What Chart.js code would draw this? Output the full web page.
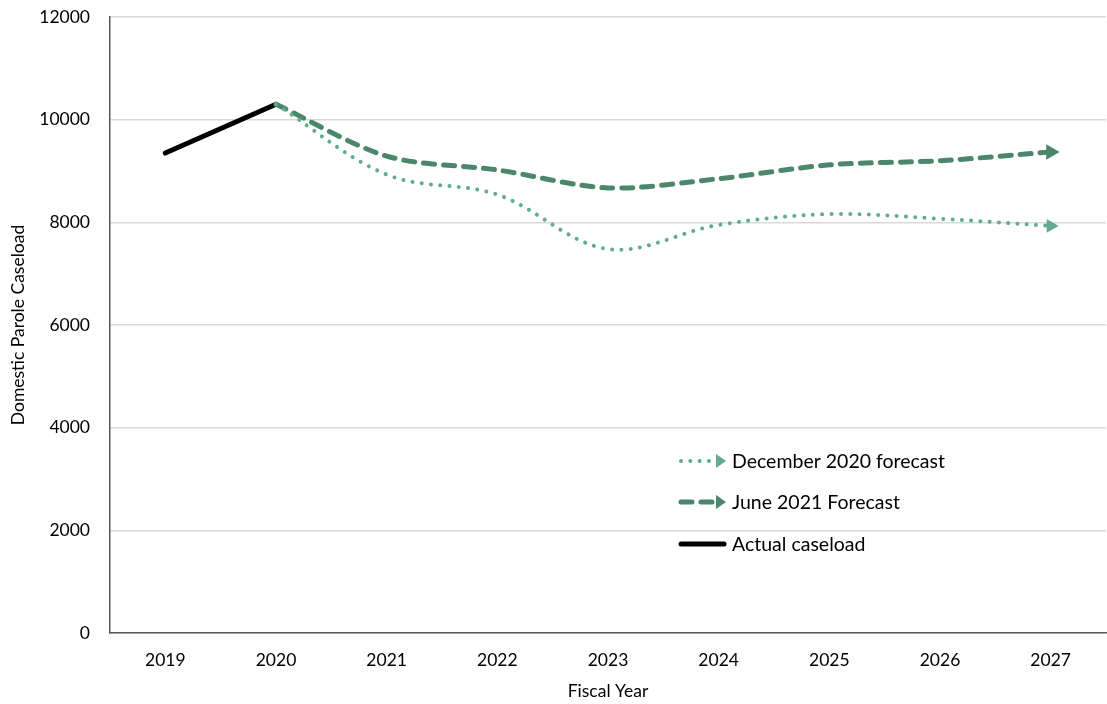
<!DOCTYPE html>
<html>
<head>
<meta charset="utf-8">
<script src="https://cdn.jsdelivr.net/npm/chart.js@4.4.0/dist/chart.umd.min.js"></script>
<style>
  html, body { margin: 0; padding: 0; background: #fff; }
  #wrap { width: 1107px; height: 704px; }
</style>
</head>
<body>
<div id="wrap"><canvas id="chart" width="1107" height="704"></canvas></div>
<script>
// valores
const years = ['2019', '2020', '2021', '2022', '2023', '2024', '2025', '2026', '2027'];
const actualCaseload = [9350, 10300, null, null, null, null, null, null, null];
const dec2020Forecast = [null, 10300, 8930, 8540, 7480, 7950, 8160, 8070, 7930];
const jun2021Forecast = [null, 10300, 9290, 9020, 8670, 8850, 9120, 9200, 9370];
const yTicks = [0, 2000, 4000, 6000, 8000, 10000, 12000];

const FONT = 'Lato, "Open Sans", sans-serif';
const COR_DEC = '#62ab8c';
const COR_JUN = '#4b876b';

// seta só no último ponto
const lastArrow = (size) => (ctx) => ctx.dataIndex === years.length - 1 ? size : 0;

// legenda desenhada à mão (linhas com setas)
const legendPlugin = {
    id: 'customLegend',
    afterDraw(chart) {
        const c = chart.ctx;
        const x0 = 679, x1 = 726, tx = 732;
        const rows = [
            { y: 461, label: 'December 2020 forecast', color: COR_DEC, width: 4, dash: [0.01, 9.3], arrow: true },
            { y: 502, label: 'June 2021 Forecast', color: COR_JUN, width: 5, dash: [11, 9], arrow: true },
            { y: 544, label: 'Actual caseload', color: '#000', width: 5, dash: [], arrow: false }
        ];
        c.save();
        rows.forEach(r => {
            c.beginPath();
            c.strokeStyle = r.color;
            c.lineWidth = r.width;
            c.lineCap = 'round';
            c.setLineDash(r.dash);
            c.moveTo(x0 + 2, r.y);
            c.lineTo(r.arrow ? x1 - 10 : x1 - 2, r.y);
            c.stroke();
            c.setLineDash([]);
            if (r.arrow) {
                c.beginPath();
                c.fillStyle = r.color;
                c.moveTo(x1 - 10, r.y - 7);
                c.lineTo(x1, r.y);
                c.lineTo(x1 - 10, r.y + 7);
                c.closePath();
                c.fill();
            }
            c.fillStyle = '#000';
            c.font = '19.5px ' + FONT;
            c.textBaseline = 'middle';
            c.textAlign = 'left';
            c.fillText(r.label, tx, r.y + 1);
        });
        c.restore();
    }
};

new Chart(document.getElementById('chart'), {
    type: 'line',
    data: {
        labels: years,
        datasets: [{
            label: 'December 2020 forecast',
            data: dec2020Forecast,
            borderColor: COR_DEC,
            backgroundColor: COR_DEC,
            borderWidth: 4,
            borderDash: [0.01, 9.3],
            borderCapStyle: 'round',
            tension: 0.35,
            pointStyle: 'triangle',
            pointRotation: 90,
            pointRadius: lastArrow(8),
            pointBorderWidth: 0
        }, {
            label: 'June 2021 Forecast',
            data: jun2021Forecast,
            borderColor: COR_JUN,
            backgroundColor: COR_JUN,
            borderWidth: 5,
            borderDash: [11, 9],
            borderCapStyle: 'round',
            tension: 0.3,
            pointStyle: 'triangle',
            pointRotation: 90,
            pointRadius: lastArrow(9),
            pointBorderWidth: 0
        }, {
            label: 'Actual caseload',
            data: actualCaseload,
            borderColor: '#000',
            borderWidth: 5,
            borderCapStyle: 'round',
            pointRadius: 0,
            tension: 0
        }]
    },
    options: {
        responsive: false,
        animation: false,
        spanGaps: false,
        layout: { autoPadding: false, padding: { top: 17, right: 1, left: 0, bottom: 0 } },
        plugins: {
            legend: { display: false },
            tooltip: { enabled: false }
        },
        scales: {
            x: {
                offset: true,
                afterFit: (scale) => { scale.height = 71; scale.paddingLeft = 0; scale.paddingRight = 0; },
                grid: { display: false, drawTicks: false },
                border: { color: '#595959', width: 1.5 },
                ticks: { color: '#000', font: { family: FONT, size: 17.5 }, padding: 17 },
                title: { display: true, text: 'Fiscal Year', color: '#000', font: { family: FONT, size: 17.5 }, padding: { top: 4, bottom: 2 } }
            },
            y: {
                min: 0,
                max: 12000,
                afterBuildTicks: (scale) => { scale.ticks = yTicks.map(v => ({ value: v })); },
                afterFit: (scale) => { scale.width = 110; scale.paddingTop = 0; scale.paddingBottom = 0; },
                grid: { color: '#d9d9d9', lineWidth: 1.5, drawTicks: false },
                border: { color: '#595959', width: 1.5 },
                ticks: { color: '#000', font: { family: FONT, size: 17.5 }, padding: 20, callback: (v) => String(v) },
                title: { display: true, text: 'Domestic Parole Caseload', color: '#000', font: { family: FONT, size: 17.5 }, padding: { top: 8, bottom: 0 } }
            }
        }
    },
    plugins: [legendPlugin]
});
</script>
</body>
</html>
